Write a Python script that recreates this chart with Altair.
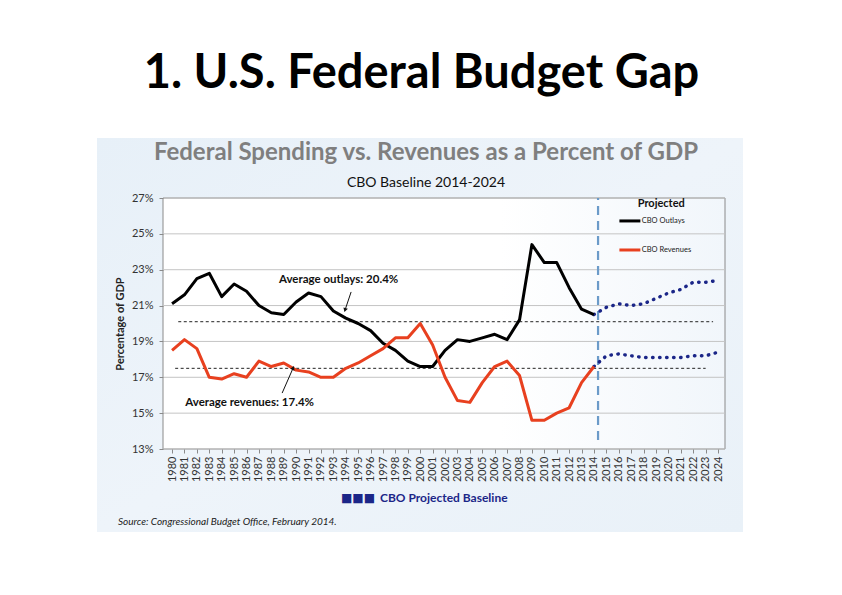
import altair as alt
import pandas as pd

# ---------------- data ----------------
years_hist = list(range(1980, 2015))
outlays_hist = [21.1, 21.6, 22.5, 22.8, 21.5, 22.2, 21.8, 21.0, 20.6, 20.5,
                21.2, 21.7, 21.5, 20.7, 20.3, 20.0, 19.6, 18.9, 18.5, 17.9,
                17.6, 17.6, 18.5, 19.1, 19.0, 19.2, 19.4, 19.1, 20.2, 24.4,
                23.4, 23.4, 22.0, 20.8, 20.5]
revenues_hist = [18.5, 19.1, 18.6, 17.0, 16.9, 17.2, 17.0, 17.9, 17.6, 17.8,
                 17.4, 17.3, 17.0, 17.0, 17.5, 17.8, 18.2, 18.6, 19.2, 19.2,
                 20.0, 18.8, 17.0, 15.7, 15.6, 16.7, 17.6, 17.9, 17.1, 14.6,
                 14.6, 15.0, 15.3, 16.7, 17.6]
years_proj = list(range(2014, 2025))
outlays_proj = [20.5, 20.9, 21.1, 21.0, 21.1, 21.4, 21.7, 21.9, 22.3, 22.3, 22.4]
revenues_proj = [17.6, 18.2, 18.3, 18.2, 18.1, 18.1, 18.1, 18.1, 18.2, 18.2, 18.4]

avg_names = ["outlays", "revenues"]
avg_values = [20.1, 17.5]
avg_start = [1980.5, 1980.25]
avg_end = [2023.6, 2023.0]

y_ticks = [13, 15, 17, 19, 21, 23, 25, 27]
x_ticks = list(range(1980, 2025))

proj_year = 2014.33
proj_top, proj_bottom = 27.0, 13.5

ann_texts = ["Average outlays: 20.4%", "Average revenues: 17.4%"]
ann_x = [1993.42, 1986.25]
ann_y = [22.43, 15.57]
arrow_x1 = [1994.43, 1988.87]
arrow_y1 = [21.76, 16.12]
arrow_x2 = [1993.94, 1989.76]
arrow_y2 = [20.75, 17.52]
arrow_angle = [198, 24]

leg_names = ["CBO Outlays", "CBO Revenues"]
leg_colors = ["#000000", "#e8401f"]
leg_y = [25.72, 24.10]
leg_x1, leg_x2, leg_tx = 2016.05, 2017.74, 2017.85
leg_title = "Projected"
leg_title_x, leg_title_y = 2019.42, 26.67

# ---------------- style ----------------
W, H = 562, 251
FONT = "Lato"
RED = "#e8401f"
NAVY = "#1b2688"

xs = alt.Scale(domain=[1979.27, 2024.56], nice=False, zero=False)
ys = alt.Scale(domain=[13, 27], nice=False, zero=False)
xaxis = alt.Axis(values=x_ticks, labelAngle=270, format="d", title=None,
                 grid=False, domain=False, tickSize=4, tickColor="#8a8a8a",
                 labelFont=FONT, labelFontSize=11, labelColor="#333333",
                 labelPadding=3, labelOverlap=False, zindex=1)
yaxis = alt.Axis(values=y_ticks, labelExpr="datum.value + '%'",
                 title="Percentage of GDP", grid=False, domain=False,
                 tickSize=4, tickColor="#8a8a8a", labelFont=FONT,
                 labelFontSize=11, labelColor="#333333", labelPadding=6,
                 titleFont=FONT, titleFontSize=11, titleFontWeight="bold",
                 titleColor="#222222", titlePadding=6, zindex=1)


def X(f):
    return alt.X(f, type="quantitative", scale=xs, axis=xaxis)


def Y(f):
    return alt.Y(f, type="quantitative", scale=ys, axis=yaxis)


one = pd.DataFrame({"a": [0]})

hist = pd.DataFrame({"year": years_hist * 2,
                     "value": outlays_hist + revenues_hist,
                     "series": ["out"] * len(years_hist) + ["rev"] * len(years_hist)})
proj = pd.DataFrame({"year": years_proj * 2,
                     "value": outlays_proj + revenues_proj,
                     "series": ["out"] * len(years_proj) + ["rev"] * len(years_proj)})
avg = pd.DataFrame({"name": avg_names, "v": avg_values, "x1": avg_start, "x2": avg_end})
grid = pd.DataFrame({"v": y_ticks})
vline = pd.DataFrame({"x": [proj_year], "y1": [proj_bottom], "y2": [proj_top]})
ann = pd.DataFrame({"t": ann_texts, "x": ann_x, "y": ann_y})
arr = pd.DataFrame({"x1": arrow_x1, "y1": arrow_y1, "x2": arrow_x2,
                    "y2": arrow_y2, "ang": arrow_angle})
leg = pd.DataFrame({"name": leg_names, "c": leg_colors, "y": leg_y,
                    "x1": [leg_x1] * 2, "x2": [leg_x2] * 2, "tx": [leg_tx] * 2})
legt = pd.DataFrame({"t": [leg_title], "x": [leg_title_x], "y": [leg_title_y]})

panel = alt.Chart(one).mark_rect(
    fill=alt.Gradient(gradient="linear", x1=0, y1=0, x2=1, y2=1,
                      stops=[alt.GradientStop(color="#e7f0f8", offset=0),
                             alt.GradientStop(color="#eef4fa", offset=0.5),
                             alt.GradientStop(color="#e9f1f8", offset=1)])
).encode(x=alt.value(-66), x2=alt.value(580), y=alt.value(-60), y2=alt.value(334))

plotbg = alt.Chart(one).mark_rect(
    fill=alt.Gradient(gradient="linear", x1=0, y1=0, x2=1, y2=0,
                      stops=[alt.GradientStop(color="#ffffff", offset=0),
                             alt.GradientStop(color="#ffffff", offset=0.6),
                             alt.GradientStop(color="#f1f6fb", offset=1)]),
    stroke="#8a8a8a", strokeWidth=1
).encode(x=alt.value(0), x2=alt.value(W), y=alt.value(0), y2=alt.value(H))

gridl = alt.Chart(grid).mark_rule(color="#c4c4c4", strokeWidth=1).encode(
    y=Y("v"), x=alt.value(0), x2=alt.value(W))

avgl = alt.Chart(avg).mark_rule(color="#222222", strokeWidth=1, strokeDash=[3, 2.5]).encode(
    x=X("x1"), x2="x2", y=Y("v"))

vl = alt.Chart(vline).mark_rule(color="#6b9bc9", strokeWidth=2.2, strokeDash=[9, 6]).encode(
    x=X("x"), y=Y("y1"), y2="y2")

projl = alt.Chart(proj).mark_line(color=NAVY, strokeWidth=3.4, strokeDash=[0.5, 6.5],
                                  strokeCap="round").encode(
    x=X("year"), y=Y("value"), detail="series")

histl = alt.Chart(hist).mark_line(strokeWidth=3, strokeJoin="round").encode(
    x=X("year"), y=Y("value"),
    color=alt.Color("series", scale=alt.Scale(domain=["out", "rev"], range=["#000000", RED]),
                    legend=None))

arrows = alt.Chart(arr).mark_rule(color="#111111", strokeWidth=1).encode(
    x=X("x1"), y=Y("y1"), x2="x2", y2="y2")
heads = alt.Chart(arr).mark_point(shape="triangle-up", filled=True, color="#111111",
                                  size=22, opacity=1).encode(
    x=X("x2"), y=Y("y2"), angle=alt.Angle("ang", scale=None))

annt = alt.Chart(ann).mark_text(font=FONT, fontSize=11.5, fontWeight="bold",
                                color="#111111", align="center", baseline="middle").encode(
    x=X("x"), y=Y("y"), text="t")

legl = alt.Chart(leg).mark_rule(strokeWidth=3).encode(
    x=X("x1"), x2="x2", y=Y("y"), color=alt.Color("c", scale=None))
legtx = alt.Chart(leg).mark_text(font=FONT, fontSize=7.5, color="#222222",
                                 align="left", baseline="middle").encode(
    x=X("tx"), y=Y("y"), text="name")
legti = alt.Chart(legt).mark_text(font=FONT, fontSize=11, fontWeight="bold",
                                  color="#111111", align="center", baseline="middle").encode(
    x=X("x"), y=Y("y"), text="t")


def label(txt, x, y, size, weight="normal", color="#000000", align="center",
          style="normal", font=FONT):
    return alt.Chart(one).mark_text(text=txt, font=font, fontSize=size, fontWeight=weight,
                                    color=color, align=align, baseline="alphabetic",
                                    fontStyle=style).encode(x=alt.value(x), y=alt.value(y))


slide_title = label("1. U.S. Federal Budget Gap", 258.5, -110, 47, "bold")
ctitle = label("Federal Spending vs. Revenues as a Percent of GDP", 263, -38, 24, "bold", "#7f7f7f")
csub = label("CBO Baseline 2014-2024", 263, -11, 14, "normal", "#111111")
blegsq = label("■■■", 178, 304, 12, "normal", NAVY, "left", font="DejaVu Sans")
blegtx = label("CBO Projected Baseline", 217, 304, 12, "bold", NAVY, "left")
source = label("Source: Congressional Budget Office, February 2014.", -45, 327, 10,
               "normal", "#222222", "left", "italic")

chart = alt.layer(
    panel, plotbg, gridl, avgl, vl, projl, histl, arrows, heads, annt,
    legl, legtx, legti, slide_title, ctitle, csub, blegsq, blegtx, source
).properties(
    width=W, height=H,
    autosize=alt.AutoSizeParams(type="none"),
    padding={"left": 155, "top": 190, "right": 100, "bottom": 125},
    background="white"
).configure_view(stroke=None)

chart.save("out.html", embed_options={"renderer": "svg", "actions": False})
